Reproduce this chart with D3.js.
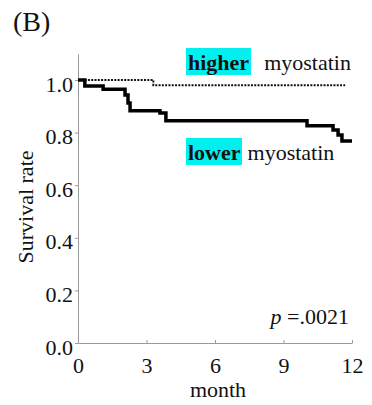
<!DOCTYPE html>
<html>
<head>
<meta charset="utf-8">
<script src="https://cdn.jsdelivr.net/npm/d3@7"></script>
<style>
  body { margin: 0; background: #fff; }
</style>
</head>
<body>
<div id="chart"></div>
<script>
// step points [month, survival]
const higherMonths = [0, 3.3, 11.7];
const higherSurvival = [1.0, 0.98, 0.98];
const lowerMonths = [0, 0.3, 1.1, 2.06, 2.19, 2.28, 3.59, 3.85, 10.03, 11.17, 11.39, 11.56, 12];
const lowerSurvival = [1.0, 0.977, 0.965, 0.943, 0.913, 0.883, 0.875, 0.845, 0.826, 0.81, 0.791, 0.768, 0.768];
const xTicks = [0, 3, 6, 9, 12];
const yTicks = [0, 0.2, 0.4, 0.6, 0.8, 1.0];

const W = 372, H = 405;
const margin = { left: 78, bottom: 343 };
const FONT = '"Liberation Serif", "Times New Roman", serif';

const svg = d3.select('#chart').append('svg').attr('width', W).attr('height', H)
  .style('font-family', FONT);

const x = d3.scaleLinear().domain([0, 12]).range([margin.left, 352]);
const y = d3.scaleLinear().domain([0, 1.1]).range([margin.bottom, margin.bottom - 263 * 1.1]);

// axes
const yAxis = svg.append('g')
  .attr('transform', 'translate(' + margin.left + ',0)')
  .call(d3.axisLeft(y).tickValues(yTicks).tickSize(3).tickSizeOuter(0).tickFormat(d3.format('.1f')));
yAxis.selectAll('text').attr('x', -5).attr('dy', '0.5em');

const xAxis = svg.append('g')
  .attr('transform', 'translate(0,' + margin.bottom + ')')
  .call(d3.axisBottom(x).tickValues(xTicks).tickSize(-3).tickSizeOuter(0));
xAxis.selectAll('text').attr('y', 14).attr('dy', '0.71em');

svg.selectAll('.domain, .tick line').attr('stroke', '#999');
svg.selectAll('g').attr('font-family', null).attr('font-size', null);
svg.selectAll('.tick text').style('font-family', FONT).style('font-size', '22px').attr('fill', '#111');

const line = d3.line().curve(d3.curveStepAfter).x(d => x(d[0])).y(d => y(d[1]));

svg.append('path')
  .datum(higherMonths.map((m, i) => [m, higherSurvival[i]]))
  .attr('d', line)
  .attr('fill', 'none')
  .attr('stroke', '#111')
  .attr('stroke-width', 2)
  .attr('stroke-dasharray', '2,1.3');

svg.append('path')
  .datum(lowerMonths.map((m, i) => [m, lowerSurvival[i]]))
  .attr('d', line)
  .attr('fill', 'none')
  .attr('stroke', '#000')
  .attr('stroke-width', 3.5);

// labels
function txt(xp, yp, size) {
  return svg.append('text').attr('x', xp).attr('y', yp)
    .style('font-family', FONT).style('font-size', size + 'px').attr('fill', '#111');
}

txt(13, 31, 28).text('(B)');

txt(0, 0, 22)
  .attr('transform', 'translate(33,207) rotate(-90)')
  .attr('text-anchor', 'middle')
  .text('Survival rate');

txt(218, 397, 22).attr('text-anchor', 'middle').text('month');

function label(x0, base, bold, rest, boxW, gap) {
  svg.append('rect').attr('x', x0).attr('y', base - 22).attr('width', boxW).attr('height', 27)
    .attr('fill', '#00f0f0');
  const t = txt(x0 + 2, base, 22);
  t.append('tspan').style('font-weight', 'bold').text(bold);
  t.append('tspan').attr('dx', gap).text(rest);
}
label(186, 70, 'higher', 'myostatin', 65, 15);
label(186, 160, 'lower', 'myostatin', 56, 7);

const p = txt(349, 324, 22).attr('text-anchor', 'end');
p.append('tspan').style('font-style', 'italic').text('p');
p.append('tspan').text(' =.0021');
</script>
</body>
</html>
